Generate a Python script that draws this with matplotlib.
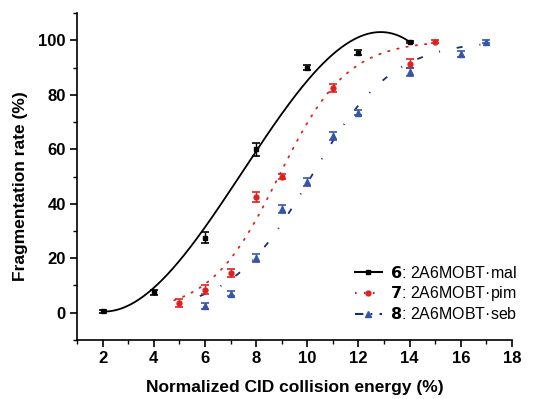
import numpy as np
import matplotlib
matplotlib.use("Agg")
import matplotlib.pyplot as plt
from matplotlib.ticker import MultipleLocator
from matplotlib.lines import Line2D

plt.rcParams['font.family'] = ['Liberation Sans', 'DejaVu Sans']

# Data
x6 = [2, 4, 6, 8, 10, 12, 14]
y6 = [0.5, 7.5, 27.5, 60, 90, 95.5, 99.5]
e6 = [0.5, 1.0, 2.0, 2.5, 1.0, 1.0, 0.4]

x7 = [5, 6, 7, 8, 9, 11, 14, 15]
y7 = [3.5, 8.5, 14.5, 42.5, 50, 82.5, 91.5, 99.5]
e7 = [1.5, 1.5, 1.5, 2.0, 1.0, 1.5, 1.5, 0.5]

x8 = [6, 7, 8, 9, 10, 11, 12, 14, 16, 17]
y8 = [2.5, 7, 20, 38, 48, 65, 73.5, 88.5, 95, 99.5]
e8 = [1.0, 1.0, 1.5, 1.5, 1.5, 1.5, 1.0, 1.5, 1.0, 0.5]

labels = [r"$\mathbf{6}$: 2A6MOBT·mal", r"$\mathbf{7}$: 2A6MOBT·pim", r"$\mathbf{8}$: 2A6MOBT·seb"]

fig = plt.figure(figsize=(5.35, 3.99), dpi=100)
ax = fig.add_axes([0.144, 0.148, 0.813, 0.819])

c6, c7, c8l, c8m = 'black', '#e0201f', '#1c2a78', '#3555a8'


def logi(p, x):
    x0, dx = p
    return 100.0 / (1 + np.exp(-(x - x0) / dx))


def fit_logi(x, y, p0):
    x = np.asarray(x, float); y = np.asarray(y, float)
    p = np.array(p0, float)
    lam = 1e-3
    for _ in range(300):
        r = y - logi(p, x)
        J = np.empty((len(x), 2))
        for i in range(2):
            dp = np.zeros(2); dp[i] = 1e-6 * max(1, abs(p[i]))
            J[:, i] = (logi(p + dp, x) - logi(p - dp, x)) / (2 * dp[i])
        A = J.T @ J
        g = J.T @ r
        step = np.linalg.solve(A + lam * np.diag(np.diag(A)), g)
        pn = p + step
        if np.sum((y - logi(pn, x)) ** 2) < np.sum(r ** 2):
            p = pn; lam *= 0.5
        else:
            lam *= 4
    return p


# fitted curves
p6 = np.polyfit(x6, y6, 3, w=1 / np.asarray(e6) ** 2)
xs6 = np.linspace(2, 14, 200)
ax.plot(xs6, np.polyval(p6, xs6), color=c6, lw=1.3, zorder=2)

p7 = fit_logi(x7, y7, [9, 1.3])
xs7 = np.linspace(4.8, 15, 200)
ax.plot(xs7, logi(p7, xs7), color=c7, lw=1.3, ls=(0, (0.8, 4.4)), dash_capstyle='round', zorder=2)

p8 = fit_logi(x8, y8, [10, 1.5])
xs8 = np.linspace(5.8, 17, 200)
ax.plot(xs8, logi(p8, xs8), color=c8l, lw=1.3, ls=(0, (3.3, 9.4, 0.6, 9.4)), zorder=2)

ax.errorbar(x6, y6, yerr=e6, fmt='s', color=c6, ms=3, capsize=3, elinewidth=1, capthick=1.2, zorder=3)
ax.errorbar(x7, y7, yerr=e7, fmt='o', color=c7, ms=3.5, capsize=3, elinewidth=1, capthick=1.2, zorder=3)
ax.errorbar(x8, y8, yerr=e8, fmt='^', color=c8m, ms=4, capsize=3, elinewidth=1, capthick=1.2, zorder=3)

h = [Line2D([], [], color=c6, lw=1.5, marker='s', ms=3),
     Line2D([], [], color=c7, lw=1.5, ls=(0, (0.8, 3.5)), marker='o', ms=3.5),
     Line2D([], [], color=c8l, lw=1.5, ls=(0, (4, 3.5, 0.8, 3.5)), marker='^', ms=4, mfc=c8m, mec=c8m)]
ax.legend(h, labels, loc='lower right', bbox_to_anchor=(1.045, 0.01), frameon=False,
          fontsize=11.5, handlelength=1.7, handletextpad=0.5, labelspacing=0.2)

ax.set_xlim(1, 18)
ax.set_ylim(-10, 110)
ax.xaxis.set_minor_locator(MultipleLocator(1))
ax.set_xticks([2, 4, 6, 8, 10, 12, 14, 16, 18])
ax.yaxis.set_minor_locator(MultipleLocator(10))
ax.set_yticks([0, 20, 40, 60, 80, 100])
ax.spines['top'].set_visible(False)
ax.spines['right'].set_visible(False)
ax.tick_params(which='major', direction='out', length=5, width=1.2, labelsize=12, pad=3)
ax.tick_params(which='minor', direction='out', length=3, width=1)
for t in ax.get_xticklabels() + ax.get_yticklabels():
    t.set_fontweight('bold')
for s in ax.spines.values():
    s.set_linewidth(1.2)
ax.set_xlabel('Normalized CID collision energy (%)', fontsize=12.5, fontweight='bold', labelpad=10)
ax.set_ylabel('Fragmentation rate (%)', fontsize=12.5, fontweight='bold')
ax.yaxis.set_label_coords(-0.112, 0.47)

fig.savefig('out.png', dpi=100)
